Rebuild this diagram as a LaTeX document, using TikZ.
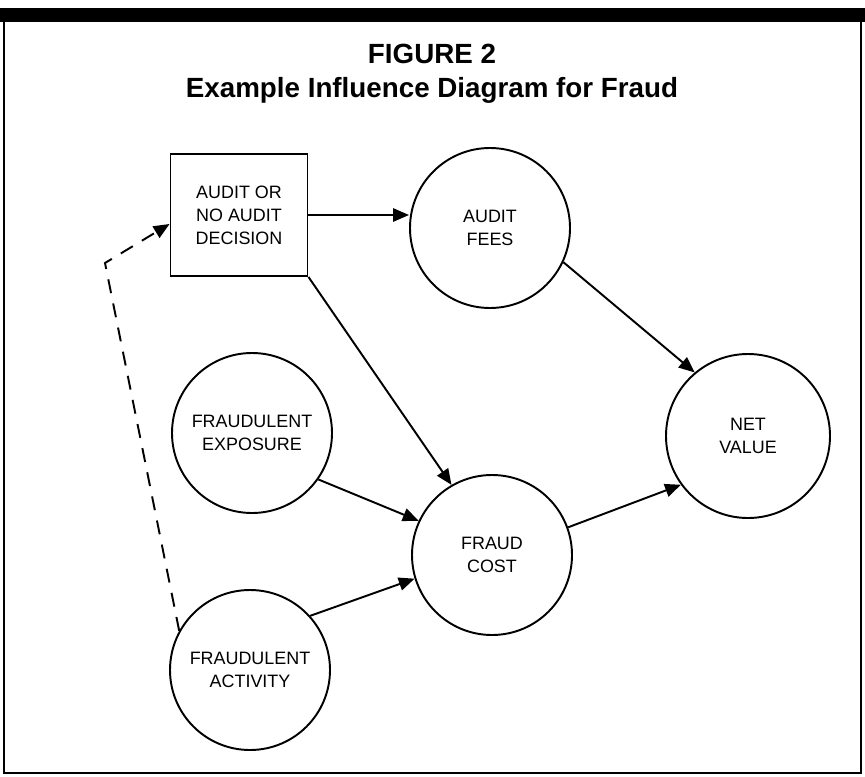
\documentclass[tikz,border=0pt]{standalone}
\usepackage{fontspec}
\setsansfont{Liberation Sans}
\usetikzlibrary{arrows.meta, positioning}

\begin{document}
\begin{tikzpicture}[
    every node/.style={font=\sffamily\fontsize{10.2}{13.1}\selectfont},
    decision/.style={rectangle, draw, line width=1.1pt, minimum width=2.74cm, minimum height=2.44cm, align=center},
    chance/.style={circle, draw, line width=1.1pt, minimum size=3.2cm, inner sep=0pt, align=center},
    infl/.style={-{Triangle[length=9pt,width=7.5pt]}, line width=1.1pt},
    info/.style={infl, dash pattern=on 8pt off 6pt},
    heading/.style={font=\sffamily\bfseries\fontsize{15.8}{19}\selectfont}
]
\useasboundingbox (0,0) rectangle (17.3,15.52);

% Frame
\fill (0,15.08) rectangle (17.3,15.36);
\draw[line width=1pt] (0.08,15.1) -- (0.08,0.06) -- (17.22,0.06) -- (17.22,15.1);

% Titles
\node[heading] (fig) at (8.64,14.44) {FIGURE 2};
\node[heading] (ttl) at (8.64,13.72) {Example Influence Diagram for Fraud};

% Decision and chance nodes
\node[decision] (audit) at (4.78,11.22) {AUDIT OR\\NO AUDIT\\DECISION};
\node[chance] (fees)  at (9.80,10.96) {AUDIT\\FEES};
\node[chance] (expo)  at (5.04,6.86)  {FRAUDULENT\\EXPOSURE};
\node[chance] (fcost) at (9.84,4.42)  {FRAUD\\COST};
\node[chance] (act)   at (5.00,2.12)  {FRAUDULENT\\ACTIVITY};
\node[chance, minimum size=3.28cm] (net) at (14.96,6.80) {NET\\VALUE};
\coordinate (bend) at (2.10,10.26);

% Influences
\draw[infl] (audit.east) -- (audit.east -| fees.west);
\draw[infl] (audit.south east) -- (fcost.120);
\draw[infl] (expo.-35) -- (fcost.155);
\draw[infl] (act.42) -- (fcost.197);
\draw[infl] (fees.-25) -- (net.130);
\draw[infl] (fcost.20) -- (net.216);

% Information arc
\draw[info] (act.151) -- (bend) -- ([yshift=-0.18cm]audit.west);
\end{tikzpicture}
\end{document}
